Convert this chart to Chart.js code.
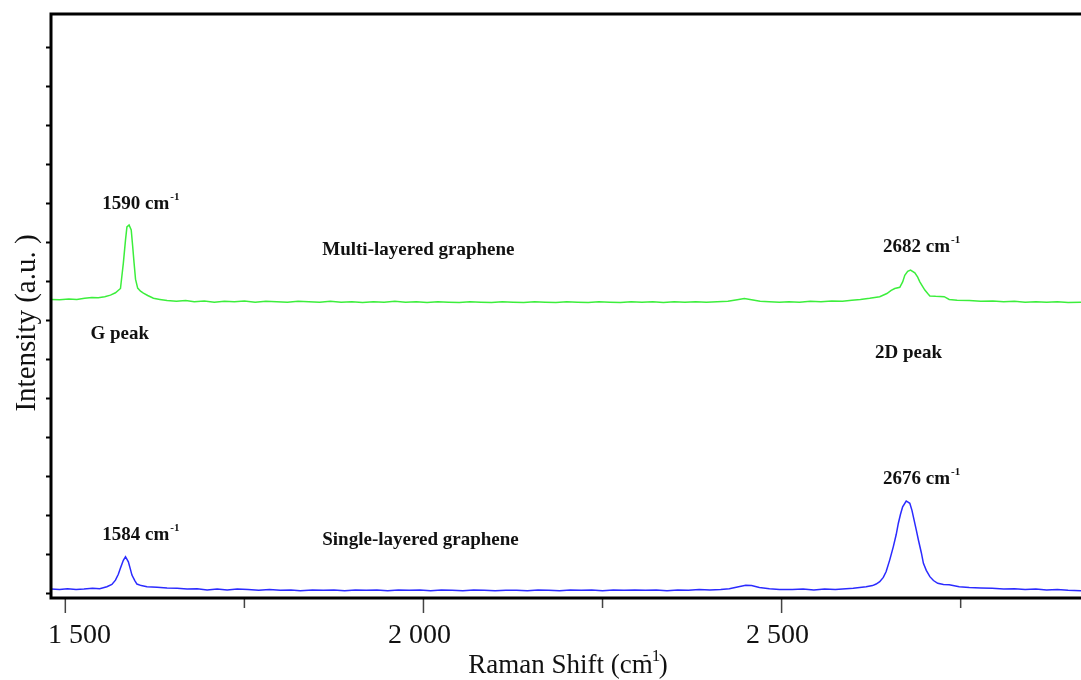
<!DOCTYPE html>
<html>
<head>
<meta charset="utf-8">
<script src="https://cdn.jsdelivr.net/npm/chart.js@4.4.1/dist/chart.umd.min.js"></script>
<style>
  html, body { margin: 0; padding: 0; background: #ffffff; }
  #wrap { width: 1081px; height: 680px; }
</style>
</head>
<body>
<div id="wrap"><canvas id="myChart" width="1081" height="680"></canvas></div>
<script>
var ramanShiftMulti = [
  1480, 1492, 1505, 1516, 1527, 1537, 1546, 1555, 1563, 1570, 1577, 1581, 1584, 1586, 1589, 1592, 1594, 1596, 1598, 1601,
  1605, 1609, 1615, 1623, 1632, 1642, 1655, 1668, 1680, 1694, 1708, 1722, 1736, 1750, 1765, 1780, 1795, 1810, 1825, 1840,
  1855, 1870, 1885, 1900, 1915, 1930, 1945, 1960, 1975, 1990, 2005, 2020, 2035, 2050, 2065, 2080, 2095, 2110, 2125, 2140,
  2155, 2170, 2185, 2200, 2215, 2230, 2245, 2260, 2275, 2290, 2305, 2320, 2335, 2350, 2365, 2380, 2395, 2410, 2425, 2438,
  2448, 2458, 2470, 2483, 2497, 2510, 2525, 2540, 2555, 2570, 2585, 2598, 2610, 2623, 2637, 2647, 2653, 2658, 2665, 2669,
  2672, 2676, 2680, 2686, 2690, 2693, 2697, 2700, 2704, 2707, 2715, 2727, 2734, 2745, 2762, 2778, 2795, 2810, 2825, 2840,
  2855, 2870, 2885, 2900, 2918
];
var intensityMulti = [
  7.53, 7.52, 7.54, 7.53, 7.56, 7.58, 7.57, 7.60, 7.64, 7.70, 7.81, 8.46, 9.05, 9.39, 9.44, 9.31, 8.90, 8.46, 8.05, 7.82,
  7.74, 7.69, 7.63, 7.56, 7.53, 7.50, 7.48, 7.50, 7.47, 7.49, 7.46, 7.48, 7.47, 7.49, 7.46, 7.48, 7.47, 7.46, 7.48, 7.47,
  7.46, 7.48, 7.46, 7.47, 7.45, 7.47, 7.46, 7.48, 7.46, 7.47, 7.45, 7.47, 7.46, 7.45, 7.47, 7.46, 7.45, 7.47, 7.46, 7.45,
  7.47, 7.46, 7.45, 7.47, 7.46, 7.45, 7.47, 7.46, 7.45, 7.47, 7.46, 7.47, 7.45, 7.47, 7.46, 7.47, 7.46, 7.47, 7.48, 7.52,
  7.55, 7.52, 7.48, 7.47, 7.46, 7.47, 7.46, 7.48, 7.47, 7.49, 7.48, 7.51, 7.53, 7.56, 7.60, 7.68, 7.76, 7.81, 7.84, 7.98,
  8.15, 8.25, 8.28, 8.21, 8.10, 7.98, 7.86, 7.77, 7.68, 7.62, 7.61, 7.60, 7.53, 7.51, 7.50, 7.48, 7.49, 7.47, 7.48, 7.46,
  7.47, 7.46, 7.47, 7.45, 7.46
];

var ramanShiftSingle = [
  1480, 1492, 1503, 1515, 1526, 1538, 1548, 1558, 1565, 1570, 1574, 1577, 1581, 1584, 1588, 1591, 1593, 1597, 1600, 1606,
  1614, 1628, 1642, 1656, 1670, 1684, 1698, 1712, 1726, 1740, 1755, 1770, 1785, 1800, 1815, 1828, 1845, 1860, 1875, 1890,
  1905, 1920, 1935, 1950, 1965, 1980, 1995, 2010, 2025, 2040, 2055, 2070, 2085, 2100, 2115, 2130, 2145, 2160, 2175, 2190,
  2205, 2220, 2235, 2250, 2265, 2280, 2295, 2310, 2325, 2340, 2355, 2370, 2385, 2400, 2415, 2427, 2440, 2450, 2458, 2469,
  2483, 2497, 2515, 2530, 2545, 2560, 2575, 2590, 2600, 2609, 2618, 2627, 2632, 2637, 2642, 2646, 2651, 2656, 2660, 2663,
  2666, 2669, 2674, 2679, 2682, 2685, 2688, 2691, 2695, 2698, 2702, 2707, 2712, 2718, 2726, 2734, 2748, 2762, 2778, 2794,
  2810, 2825, 2840, 2855, 2870, 2885, 2900, 2918
];
var intensitySingle = [
  0.10, 0.09, 0.11, 0.09, 0.10, 0.12, 0.11, 0.16, 0.22, 0.33, 0.48, 0.64, 0.84, 0.93, 0.80, 0.60, 0.46, 0.32, 0.23, 0.19,
  0.16, 0.15, 0.13, 0.12, 0.10, 0.11, 0.08, 0.10, 0.08, 0.10, 0.09, 0.07, 0.09, 0.07, 0.08, 0.06, 0.08, 0.07, 0.08, 0.06,
  0.08, 0.07, 0.08, 0.06, 0.08, 0.07, 0.08, 0.06, 0.08, 0.07, 0.06, 0.08, 0.07, 0.06, 0.07, 0.07, 0.06, 0.08, 0.07, 0.06,
  0.08, 0.07, 0.08, 0.06, 0.08, 0.07, 0.08, 0.07, 0.08, 0.06, 0.08, 0.07, 0.09, 0.08, 0.09, 0.11, 0.16, 0.20, 0.19, 0.14,
  0.11, 0.09, 0.09, 0.10, 0.08, 0.10, 0.09, 0.11, 0.12, 0.14, 0.16, 0.19, 0.23, 0.29, 0.40, 0.55, 0.85, 1.19, 1.50, 1.79,
  2.02, 2.21, 2.36, 2.30, 2.12, 1.87, 1.62, 1.36, 1.04, 0.76, 0.58, 0.42, 0.32, 0.25, 0.22, 0.21, 0.16, 0.14, 0.13, 0.12,
  0.10, 0.11, 0.09, 0.10, 0.08, 0.09, 0.07, 0.06
];

/*** Ticks del eje X */
var xTickValues = [1500, 2000, 2500];
var xTickLabels = ['1 500', '2 000', '2 500'];
var xMinorTicks = [1750, 2250, 2750];
var yTickValues = [0, 1, 2, 3, 4, 5, 6, 7, 8, 9, 10, 11, 12, 13, 14];

/*** Textos sobre el grafico (x en cm-1, y en unidades de intensidad) */
var notas = [
  { text: '1590 cm', sup: '-1', x: 1551.6, y: 9.97 },
  { text: 'G peak', sup: '', x: 1535, y: 6.64 },
  { text: 'Multi-layered graphene', sup: '', x: 1858.7, y: 8.79 },
  { text: '2682 cm', sup: '-1', x: 2641.7, y: 8.87 },
  { text: '2D peak', sup: '', x: 2630.5, y: 6.15 },
  { text: '2676 cm', sup: '-1', x: 2641.7, y: 2.92 },
  { text: '1584 cm', sup: '-1', x: 1551.6, y: 1.49 },
  { text: 'Single-layered graphene', sup: '', x: 1858.7, y: 1.36 }
];

function toPoints(xs, ys) {
  var out = [];
  for (var i = 0; i < xs.length; i++) {
    out.push({ x: xs[i], y: ys[i] });
  }
  return out;
}

var serif = '"Liberation Serif", "Times New Roman", serif';

// ejes, ticks y textos dibujados a mano con las escalas de Chart.js
var ejesPlugin = {
  id: 'ejes',
  afterDatasetsDraw: function(chart) {
    var ctx = chart.ctx;
    var area = chart.chartArea;
    var sx = chart.scales.x;
    var sy = chart.scales.y;
    ctx.save();

    // notas
    ctx.fillStyle = '#111111';
    ctx.textBaseline = 'middle';
    ctx.textAlign = 'left';
    notas.forEach(function(n) {
      var px = sx.getPixelForValue(n.x);
      var py = sy.getPixelForValue(n.y);
      ctx.font = 'bold 19px ' + serif;
      ctx.fillText(n.text, px, py);
      if (n.sup) {
        var w = ctx.measureText(n.text).width;
        ctx.font = 'bold 11px ' + serif;
        ctx.fillText(n.sup, px + w + 1, py - 7);
      }
    });

    // y ticks (sin etiquetas)
    ctx.strokeStyle = '#000000';
    ctx.lineWidth = 2;
    yTickValues.forEach(function(v) {
      var py = Math.round(sy.getPixelForValue(v)) + 0.5;
      ctx.beginPath();
      ctx.moveTo(area.left - 5, py);
      ctx.lineTo(area.left, py);
      ctx.stroke();
    });

    // x ticks
    ctx.strokeStyle = '#444444';
    ctx.lineWidth = 1.5;
    xTickValues.forEach(function(v) {
      var px = sx.getPixelForValue(v);
      ctx.beginPath();
      ctx.moveTo(px, area.bottom);
      ctx.lineTo(px, area.bottom + 15);
      ctx.stroke();
    });
    xMinorTicks.forEach(function(v) {
      var px = sx.getPixelForValue(v);
      ctx.beginPath();
      ctx.moveTo(px, area.bottom);
      ctx.lineTo(px, area.bottom + 10);
      ctx.stroke();
    });

    // ejes
    ctx.strokeStyle = '#000000';
    ctx.lineWidth = 3;
    ctx.beginPath();
    ctx.moveTo(area.right + 2, area.top);
    ctx.lineTo(area.left, area.top);
    ctx.lineTo(area.left, area.bottom);
    ctx.lineTo(area.right + 2, area.bottom);
    ctx.stroke();

    // etiquetas eje X
    ctx.fillStyle = '#111111';
    ctx.font = '28px ' + serif;
    ctx.textBaseline = 'alphabetic';
    ctx.textAlign = 'left';
    xTickValues.forEach(function(v, i) {
      var w = ctx.measureText(xTickLabels[i]).width;
      var left = sx.getPixelForValue(v) - w / 2 - 4;
      if (left < area.left - 3) { left = area.left - 3; }
      ctx.fillText(xTickLabels[i], left, area.bottom + 45);
    });

    // titulo eje X
    ctx.font = '27px ' + serif;
    var t1 = 'Raman Shift (cm';
    var w1 = ctx.measureText(t1).width;
    var wp = ctx.measureText(')').width;
    var total = w1 + 8 + wp;
    var tx = (area.left + area.right) / 2 - total / 2 + 3;
    var ty = area.bottom + 75;
    ctx.fillText(t1, tx, ty);
    ctx.font = '17px ' + serif;
    ctx.fillText('-', tx + w1 - 10, ty - 13);
    ctx.fillText('1', tx + w1 - 1, ty - 12);
    ctx.font = '27px ' + serif;
    ctx.fillText(')', tx + w1 + 6, ty);

    // titulo eje Y
    ctx.save();
    ctx.translate(27, 323);
    ctx.rotate(-Math.PI / 2);
    ctx.textAlign = 'center';
    ctx.textBaseline = 'middle';
    ctx.font = '29px ' + serif;
    ctx.fillText('Intensity (a.u. )', 0, 0);
    ctx.restore();

    ctx.restore();
  }
};

var ctx = document.getElementById('myChart').getContext('2d');
var myChart = new Chart(ctx, {
  type: 'line',
  data: {
    datasets: [
      {
        label: 'Multi-layered graphene',
        data: toPoints(ramanShiftMulti, intensityMulti),
        borderColor: '#3cee3c',
        borderWidth: 1.5,
        pointRadius: 0,
        fill: false,
        tension: 0
      },
      {
        label: 'Single-layered graphene',
        data: toPoints(ramanShiftSingle, intensitySingle),
        borderColor: '#2b2bff',
        borderWidth: 1.5,
        pointRadius: 0,
        fill: false,
        tension: 0
      }
    ]
  },
  options: {
    responsive: false,
    animation: false,
    devicePixelRatio: 1,
    layout: { padding: { left: 51, top: 14, right: 0, bottom: 82 } },
    plugins: {
      legend: { display: false },
      tooltip: { enabled: false }
    },
    scales: {
      x: { type: 'linear', min: 1480, max: 2918, display: false },
      y: { type: 'linear', min: -0.128, max: 14.85, display: false }
    }
  },
  plugins: [ejesPlugin]
});
</script>
</body>
</html>
